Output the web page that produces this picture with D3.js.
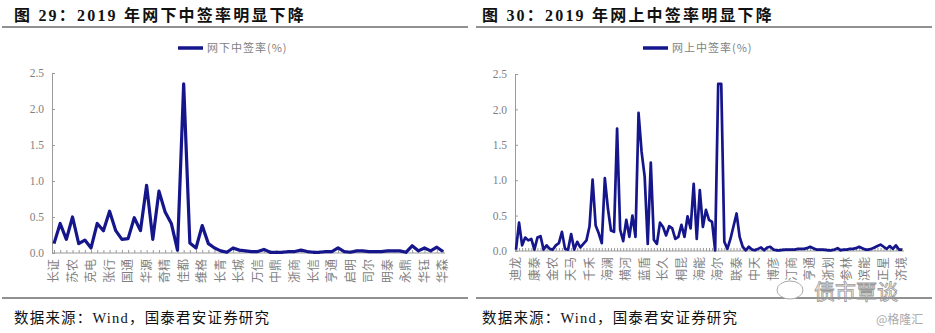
<!DOCTYPE html>
<html><head><meta charset="utf-8">
<script src="https://cdn.jsdelivr.net/npm/d3@7"></script>
<style>
html,body{margin:0;padding:0;background:#fff;}
svg{display:block;}
</style></head>
<body>
<svg id="c" width="935" height="333"></svg>
<script>
// ---------- data ----------
const yTicks = [0, 0.5, 1.0, 1.5, 2.0, 2.5];

const leftTitle = "图 29：2019 年网下中签率明显下降";
const rightTitle = "图 30：2019 年网上中签率明显下降";
const leftSeriesName = "网下中签率(%)";
const rightSeriesName = "网上中签率(%)";
const sourceText = "数据来源：Wind，国泰君安证券研究";

const leftLabels = ["长证","苏农","克电","张行","国通","华源","奇精","佳都","维格","长青","长城",
  "万信","中鼎","浙商","长信","亨通","启明","司尔","明泰","永鼎","华钰","华森"];
const leftValues = [0.13,0.41,0.19,0.50,0.13,0.18,0.07,0.41,0.31,0.58,0.31,0.19,0.20,0.49,0.31,0.94,
  0.19,0.86,0.57,0.41,0.04,2.35,0.14,0.07,0.38,0.13,0.07,0.03,0.01,0.07,0.04,0.03,
  0.02,0.02,0.05,0.01,0.01,0.01,0.02,0.02,0.04,0.02,0.01,0.01,0.02,0.02,0.07,0.02,
  0.01,0.03,0.03,0.02,0.02,0.02,0.03,0.03,0.03,0.01,0.10,0.03,0.07,0.03,0.08,0.02];

const rightLabels = ["迪龙","康泰","金农","天马","千禾","海澜","横河","蓝盾","长久","桐昆","海能",
  "海尔","联泰","中天","博彦","汀商","亨通","浙划","参林","滨能","正星","济境"];
const rightValues = [0.02,0.40,0.08,0.19,0.15,0.17,0.02,0.19,0.21,0.02,0.08,0.03,0.02,0.08,0.11,0.27,
  0.03,0.02,0.24,0.02,0.13,0.05,0.10,0.15,0.35,1.01,0.36,0.25,0.11,1.03,0.60,0.29,
  0.27,1.73,0.30,0.14,0.44,0.20,0.50,0.20,1.95,1.40,1.05,0.10,1.25,0.16,0.10,0.40,
  0.34,0.22,0.35,0.32,0.17,0.20,0.37,0.20,0.49,0.32,0.95,0.17,0.86,0.34,0.58,0.44,
  0.41,0.01,2.36,2.36,0.13,0.03,0.17,0.35,0.53,0.20,0.06,0.01,0.06,0.02,0.01,0.03,
  0.05,0.01,0.05,0.06,0.02,0.01,0.01,0.015,0.02,0.02,0.02,0.02,0.03,0.03,0.03,0.04,
  0.06,0.04,0.02,0.02,0.02,0.015,0.01,0.01,0.02,0.04,0.01,0.02,0.02,0.03,0.03,0.04,
  0.06,0.04,0.02,0.02,0.03,0.05,0.07,0.09,0.06,0.03,0.07,0.03,0.08,0.02,0.02];

// ---------- drawing ----------
const svg = d3.select("#c");
const lineColor = "#15158c";
const axisColor = "#9a9a9a";
const labelColor = "#7f7f7f";
const serif = "'Liberation Serif','Noto Sans CJK SC',serif";
const cjk = "'Noto Sans CJK SC',sans-serif";

function panel(o) {
  const g = svg.append("g");
  // title
  g.append("text").attr("x", o.titleX).attr("y", 21)
    .attr("font-family", serif)
    .attr("font-weight", "bold").attr("font-size", 16).attr("fill", "#111")
    .attr("letter-spacing", 2.2)
    .text(o.title);
  g.append("line").attr("x1", o.ruleX1).attr("x2", o.ruleX2).attr("y1", 27).attr("y2", 27)
    .attr("stroke", "#222").attr("stroke-width", 1);
  // footer
  g.append("line").attr("x1", o.ruleX1).attr("x2", o.ruleX2).attr("y1", 298).attr("y2", 298)
    .attr("stroke", "#222").attr("stroke-width", 1);
  g.append("text").attr("x", o.titleX).attr("y", 323)
    .attr("font-family", serif).attr("font-size", 14.5).attr("fill", "#111")
    .attr("letter-spacing", 1.2)
    .text(sourceText);

  const n = o.values.length;
  const x = d3.scaleLinear().domain([0, n - 1]).range([o.x0, o.x1]);
  const y = d3.scaleLinear().domain([0, 2.5]).range([o.yBase, o.yTop]);

  // legend
  g.append("line").attr("x1", o.legX).attr("x2", o.legX + 25).attr("y1", 48).attr("y2", 48)
    .attr("stroke", lineColor).attr("stroke-width", 3.5);
  g.append("text").attr("x", o.legX + 29).attr("y", 48).attr("dy", "0.35em")
    .attr("font-family", cjk).attr("font-size", 11).attr("fill", labelColor)
    .attr("letter-spacing", 1)
    .text(o.name);

  // y axis
  const ya = g.append("g").attr("transform", `translate(${o.axisX},0)`)
    .call(d3.axisLeft(y).tickValues(yTicks).tickFormat(d3.format(".1f"))
      .tickSizeInner(-3).tickSizeOuter(0).tickPadding(8));
  ya.select(".domain").attr("stroke", axisColor);
  ya.selectAll(".tick line").attr("stroke", axisColor);
  ya.selectAll(".tick text").attr("fill", labelColor).attr("font-family", serif).attr("font-size", 11.5);

  // x axis
  const xa = g.append("g").attr("transform", `translate(0,${o.yBase})`)
    .call(d3.axisBottom(x).tickValues(d3.range(n)).tickFormat("")
      .tickSizeInner(-3).tickSizeOuter(0));
  xa.select(".domain").attr("stroke", axisColor).attr("d", `M${o.axisX},0H${o.x1 + 2}`);
  xa.selectAll(".tick line").attr("stroke", axisColor);

  // category labels
  g.selectAll(null).data(o.labels).join("text")
    .attr("transform", (d, i) => `translate(${x(i * o.step)},${o.yBase + 6}) rotate(-90)`)
    .attr("text-anchor", "end").attr("dy", "0.35em")
    .attr("font-family", cjk).attr("font-size", 12).attr("fill", labelColor)
    .text(d => d);

  // line
  g.append("path").datum(o.values)
    .attr("fill", "none").attr("stroke", lineColor).attr("stroke-width", o.sw)
    .attr("stroke-linejoin", "round")
    .attr("d", d3.line().x((d, i) => x(i)).y(d => y(d)));
}

panel({title: leftTitle, titleX: 14, ruleX1: 2, ruleX2: 468, name: leftSeriesName, legX: 178,
  values: leftValues, labels: leftLabels, step: 3, x0: 54, x1: 443, axisX: 52,
  yBase: 253, yTop: 73, sw: 3.2});
panel({title: rightTitle, titleX: 482, ruleX1: 476, ruleX2: 932, name: rightSeriesName, legX: 643,
  values: rightValues, labels: rightLabels, step: 6, x0: 516, x1: 902, axisX: 515,
  yBase: 251, yTop: 74, sw: 2.7});

// watermark
svg.append("ellipse").attr("cx", 790).attr("cy", 290).attr("rx", 13).attr("ry", 9)
  .attr("fill", "#fff").attr("stroke", "#aaa").attr("stroke-width", 1);
svg.append("text").attr("x", 814).attr("y", 299).attr("font-family", cjk)
  .attr("font-size", 21).attr("fill", "none").attr("stroke", "#999").attr("stroke-width", 0.8)
  .text("债市覃谈");
svg.append("text").attr("x", 876).attr("y", 324).attr("font-family", cjk)
  .attr("font-size", 12).attr("fill", "#aaa").text("@格隆汇");
</script>
</body></html>
